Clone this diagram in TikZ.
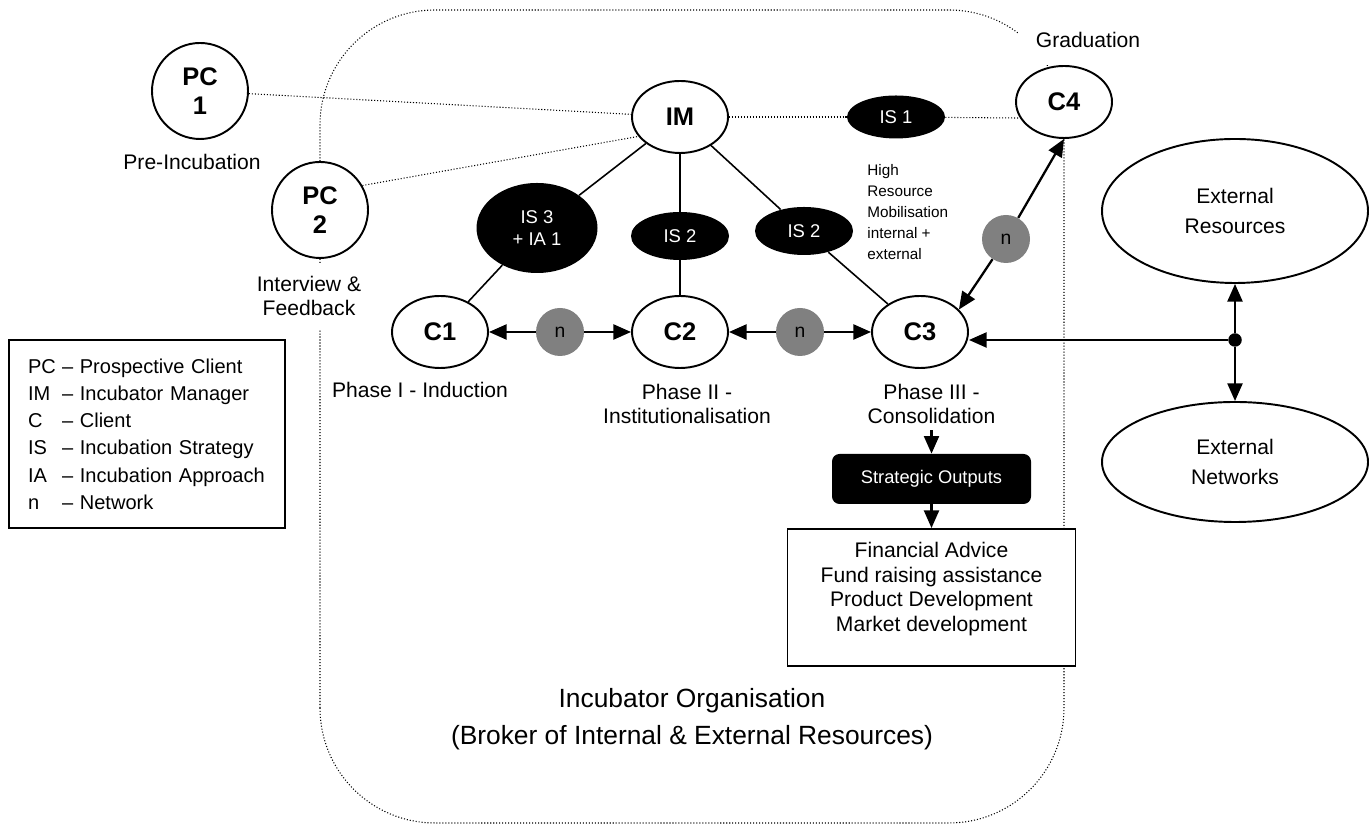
\documentclass[tikz,border=0pt]{standalone}
\usepackage{fontspec}
\setmainfont{Liberation Sans}
\usetikzlibrary{arrows.meta}
\usetikzlibrary{shapes.geometric}

\newcommand{\abbr}[1]{\makebox[1.7em][l]{#1}}

\begin{document}
\begin{tikzpicture}[
        client/.style={ellipse, draw, line width=1.1pt, fill=white, minimum width=1.92cm, minimum height=1.44cm, inner sep=0pt, align=center, font=\fontsize{14.5}{16.5}\selectfont\bfseries},
        strat/.style={ellipse, fill=black, text=white, minimum width=1.96cm, minimum height=0.96cm, inner sep=0pt, align=center, font=\fontsize{10.5}{12.5}\selectfont},
        netw/.style={circle, fill=black!50, minimum size=0.96cm, inner sep=0pt, font=\fontsize{11}{12}\selectfont},
        extern/.style={ellipse, draw, line width=1.1pt, minimum width=5.32cm, inner sep=0pt, align=center, font=\fontsize{12}{17}\selectfont},
        lbl/.style={align=center, font=\fontsize{12}{14}\selectfont},
        dots/.style={line width=0.6pt, dash pattern=on 0.6pt off 1.1pt},
        link/.style={line width=0.9pt},
        arr/.style={line width=1.3pt, -{Triangle[length=10pt, width=8.5pt]}}
    ]
                \useasboundingbox (0, 0) rectangle (27.4, 16.52);
                \draw[dots, rounded corners=2.3cm](6.4, 0.06) rectangle (21.28, 16.32);

                \node[client, minimum height=1.92cm] (PC1) at (4.0, 14.7) {PC\\1};
                \node[client, minimum height=1.92cm] (PC2) at (6.4, 12.32) {PC\\2};
                \node[client] (IM) at (13.6, 14.18) {IM};
                \node[client] (C4) at (21.28, 14.48) {C4};
                \node[client] (C1) at (8.8, 9.88) {C1};
                \node[client] (C2) at (13.6, 9.88) {C2};
                \node[client] (C3) at (18.4, 9.88) {C3};

                \node[strat, minimum height=0.86cm] (IS1) at (17.92, 14.18) {IS 1};
                \node[strat, minimum width=2.42cm, minimum height=1.8cm] (IS3) at (10.74, 11.96) {IS 3\\+ IA 1};
                \node[strat] (IS2a) at (13.6, 11.8) {IS 2};
                \node[strat] (IS2b) at (16.08, 11.9) {IS 2};

                \node[netw] (nA) at (11.2, 9.88) {n};
                \node[netw] (nB) at (16.0, 9.88) {n};
                \node[netw] (nC) at (20.12, 11.74) {n};

                \node[extern, minimum height=2.88cm] (ER) at (24.7, 12.3) {External\\Resources};
                \node[extern, minimum height=2.4cm] (EN) at (24.7, 7.28) {External\\Networks};
                \node[circle, fill=black, inner sep=0pt, minimum size=0.27cm] (dot) at (24.7, 9.72) {};

                \node[lbl] (preinc) at (3.84, 13.28) {Pre-Incubation};
                \node[lbl, fill=white, inner sep=0.25cm] (intfb) at (6.18, 10.6) {Interview \&\\Feedback};
                \node[lbl, fill=white, inner sep=0.35cm] (grad) at (21.76, 15.72) {Graduation};
                \node[anchor=west, align=left, inner sep=0pt, font=\fontsize{8.7}{12}\selectfont] (highres) at (17.34, 12.28) {High\\Resource\\Mobilisation\\internal +\\external};

                \node[lbl] (ph1) at (8.4, 8.72) {Phase I - Induction};
                \node[lbl] (ph2) at (13.74, 8.44) {Phase II -\\Institutionalisation};
                \node[lbl] (ph3) at (18.63, 8.44) {Phase III -\\Consolidation};

                \node[rectangle, rounded corners=0.15cm, fill=black, text=white, minimum width=3.98cm, minimum height=1.0cm, font=\fontsize{10.4}{12}\selectfont] (SO) at (18.63, 6.94) {Strategic Outputs};
                \node[rectangle, draw, line width=1.1pt, fill=white, minimum width=5.76cm, minimum height=2.74cm, text depth=0.42cm, align=center, font=\fontsize{12}{14}\selectfont] (outs) at (18.63, 4.57) {Financial Advice\\Fund raising assistance\\Product Development\\Market development};

                \node[align=center, font=\fontsize{15}{21}\selectfont] (incorg) at (13.84, 2.13) {Incubator Organisation\\(Broker of Internal \& External Resources)};

                \node[rectangle, draw, line width=1.1pt, minimum width=5.52cm, minimum height=3.76cm, text width=4.76cm, inner xsep=0.38cm, align=left, font=\fontsize{11.4}{15.5}\selectfont] (legend) at (2.94, 7.84) {\abbr{PC}– Prospective Client\\\abbr{IM}– Incubator Manager\\\abbr{C}– Client\\\abbr{IS}– Incubation Strategy\\\abbr{IA}– Incubation Approach\\\abbr{n}– Network};

                \draw[dots](PC1) -- (IM);
                \draw[dots](PC2.30) -- (IM.205);
                \draw[dots](IM) -- (IS1);
                \draw[dots](IS1) -- (C4.200);

                \draw[link](IM) -- (IS3);
                \draw[link](IS3) -- (C1);
                \draw[link](IM) -- (IS2a);
                \draw[link](IS2a) -- (C2);
                \draw[link](IM) -- (IS2b);
                \draw[link](IS2b) -- (C3);

                \draw[arr](nA) -- (C1);
                \draw[arr](nA) -- (C2);
                \draw[arr](nB) -- (C2);
                \draw[arr](nB) -- (C3);
                \draw[arr](nC) -- (C3.30);
                \draw[arr](nC) -- (C4.south);
                \draw[arr](dot) -- (dot -| C3.east);
                \draw[arr](dot) -- (ER);
                \draw[arr](dot) -- (EN);
                \draw[arr](ph3) -- (SO);
                \draw[arr](SO) -- (outs);
            \end{tikzpicture}
\end{document}
